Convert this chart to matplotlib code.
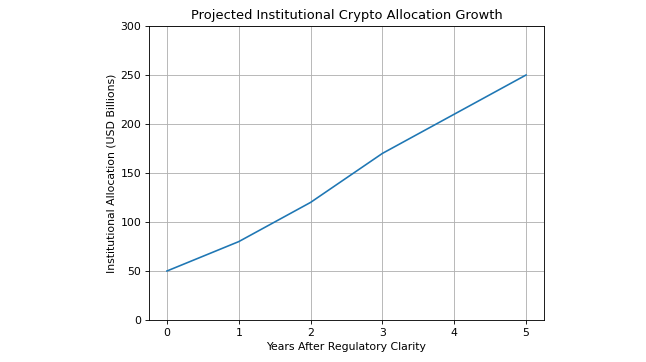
import matplotlib
matplotlib.use("Agg")
import matplotlib.pyplot as plt

years = [0, 1, 2, 3, 4, 5]
allocation = [50, 80, 120, 170, 210, 250]

s = 0.78
plt.rcParams.update({
    "font.size": 10 * s,
    "axes.titlesize": 12 * s,
    "axes.labelsize": 10 * s,
    "xtick.labelsize": 10 * s,
    "ytick.labelsize": 10 * s,
    "xtick.major.size": 3.5 * s,
    "ytick.major.size": 3.5 * s,
    "xtick.major.width": 0.8 * s,
    "ytick.major.width": 0.8 * s,
    "xtick.major.pad": 3.5 * s,
    "ytick.major.pad": 3.5 * s,
    "axes.titlepad": 6.0 * s,
    "axes.labelpad": 4.0 * s,
    "lines.linewidth": 1.5 * s,
    "axes.linewidth": 0.8 * s,
    "grid.linewidth": 0.8 * s,
})

fig = plt.figure(figsize=(6.46, 3.62), dpi=100)
ax = fig.add_axes([149 / 646, 1 - 320 / 362, (544 - 149) / 646, (320 - 26) / 362])
ax.plot(years, allocation, color="#1f77b4")
ax.set_ylim(0, 300)
ax.set_title("Projected Institutional Crypto Allocation Growth")
ax.set_xlabel("Years After Regulatory Clarity")
ax.set_ylabel("Institutional Allocation (USD Billions)")
ax.grid(True)
fig.savefig("out.png", dpi=100)
